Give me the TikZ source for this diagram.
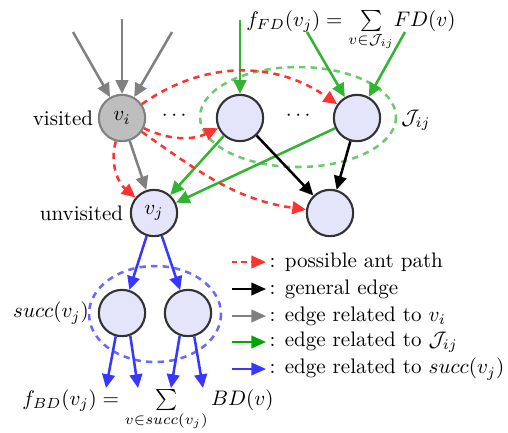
\documentclass[tikz,border=0pt]{standalone}
\usepackage{amsmath}
\usetikzlibrary{arrows.meta,positioning}
\definecolor{antRed}{RGB}{255,50,50}
\definecolor{relGray}{RGB}{128,128,128}
\definecolor{jGreen}{RGB}{50,180,50}
\definecolor{jGreenLeg}{RGB}{0,165,0}
\definecolor{jSet}{RGB}{110,200,110}
\definecolor{sBlue}{RGB}{55,55,255}
\definecolor{sSet}{RGB}{105,105,255}
\definecolor{vtxFill}{RGB}{228,228,250}
\definecolor{vtxLine}{RGB}{50,50,50}
\definecolor{visFill}{RGB}{190,190,190}
\definecolor{visLine}{RGB}{128,128,128}

\begin{document}
\begin{tikzpicture}[
  x=0.475pt, y=-0.475pt,
  vtx/.style={circle, draw=vtxLine, fill=vtxFill, line width=1pt, minimum size=22pt, inner sep=0pt},
  vvis/.style={vtx, draw=visLine, fill=visFill},
  tip/.style={-{Triangle[length=6.5pt,width=6pt]}, line width=1.2pt},
  antpath/.style={tip, antRed, dash pattern=on 3pt off 2.5pt},
  gen/.style={tip, black},
  rel/.style={tip, relGray},
  jrel/.style={tip, jGreen},
  srel/.style={tip, sBlue},
  leg/.style={-{Triangle[length=7pt,width=6pt]}, line width=1pt},
  setline/.style={line width=1.2pt, dash pattern=on 3pt off 2.5pt},
]
  \useasboundingbox (0,0) rectangle (508,432);

  % sets
  \draw[setline, jSet] (298,117) ellipse [x radius=98, y radius=50];
  \draw[setline, sSet] (155,314) ellipse [x radius=66, y radius=48];

  % vertices
  \node[vvis] (vi) at (122,118) {$v_i$};
  \node[vtx] (vj) at (154,213) {$v_j$};
  \node[vtx] (ja) at (240,118) {};
  \node[vtx] (jb) at (357,118) {};
  \node[vtx] (vc) at (330,213) {};
  \node[vtx] (sa) at (122,313) {};
  \node[vtx] (sb) at (188,313) {};

  \node[left=1pt of vi, inner sep=1pt] (vislab) {visited};
  \node[left=2pt of vj, inner sep=1pt] (unvlab) {unvisited};
  \node (dots1) at (176,116) {$\cdots$};
  \node (dots2) at (300,116) {$\cdots$};
  \node (jlab) at (416,120) {$\mathcal{J}_{ij}$};
  \node (slab) at (51,313) {$succ(v_j)$};
  \node[anchor=base, inner sep=0pt] (ffd) at (351,26) {$f_{FD}(v_j)=\smash[t]{\sum\limits_{v\in\mathcal{J}_{ij}}}FD(v)$};
  \node[anchor=base, inner sep=0pt] (fbd) at (148,405) {$f_{BD}(v_j)=\sum\limits_{v\in succ(v_j)}BD(v)$};

  % free ends
  \coordinate (gi1) at (73,32);
  \coordinate (gi2) at (122,19);
  \coordinate (gi3) at (172,32);
  \coordinate (ji1) at (240,20);
  \coordinate (ji2) at (307,32);
  \coordinate (ji3) at (405,32);
  \coordinate (so1) at (106,388);
  \coordinate (so2) at (138,388);
  \coordinate (so3) at (171,388);
  \coordinate (so4) at (203,388);

  % edges related to v_i
  \draw[rel] (gi1) -- (vi);
  \draw[rel] (gi2) -- (vi);
  \draw[rel] (gi3) -- (vi);
  \draw[rel] (vi) -- (vj);

  % edges related to J_ij
  \draw[jrel] (ji1) -- (ja);
  \draw[jrel] (ji2) -- (jb);
  \draw[jrel] (ji3) -- (jb);
  \draw[jrel] (ja) -- (vj);
  \draw[jrel] (jb) -- (vj);

  % general edges
  \draw[gen] (ja) -- (vc);
  \draw[gen] (jb) -- (vc);

  % possible ant paths
  \draw[antpath] (vi) to[bend right=25] (ja);
  \draw[antpath] (vi) to[out=35,in=145] (jb);
  \draw[antpath] (vi) to[out=-35,in=172] (vc);
  \draw[antpath] (vi.255) to[out=-105,in=140] (vj);

  % edges related to succ(v_j)
  \draw[srel] (vj) -- (sa);
  \draw[srel] (vj) -- (sb);
  \draw[srel] (sa.255) -- (so1);
  \draw[srel] (sa.290) -- (so2);
  \draw[srel] (sb.250) -- (so3);
  \draw[srel] (sb.285) -- (so4);

  % legend
  \coordinate (l1a) at (232,262); \coordinate (l1b) at (266,262);
  \coordinate (l2a) at (232,289); \coordinate (l2b) at (266,289);
  \coordinate (l3a) at (232,316); \coordinate (l3b) at (266,316);
  \coordinate (l4a) at (232,342); \coordinate (l4b) at (266,342);
  \coordinate (l5a) at (232,369); \coordinate (l5b) at (266,369);
  \draw[leg, antRed, dash pattern=on 2.5pt off 2pt] (l1a) -- (l1b);
  \draw[leg, black] (l2a) -- (l2b);
  \draw[leg, relGray] (l3a) -- (l3b);
  \draw[leg, jGreenLeg] (l4a) -- (l4b);
  \draw[leg, sBlue] (l5a) -- (l5b);
  \node[right=1pt of l1b, inner sep=0.5pt] (t1) {: possible ant path};
  \node[right=1pt of l2b, inner sep=0.5pt] (t2) {: general edge};
  \node[right=1pt of l3b, inner sep=0.5pt] (t3) {: edge related to $v_i$};
  \node[right=1pt of l4b, inner sep=0.5pt] (t4) {: edge related to $\mathcal{J}_{ij}$};
  \node[right=1pt of l5b, inner sep=0.5pt] (t5) {: edge related to $succ(v_j)$};
\end{tikzpicture}
\end{document}
